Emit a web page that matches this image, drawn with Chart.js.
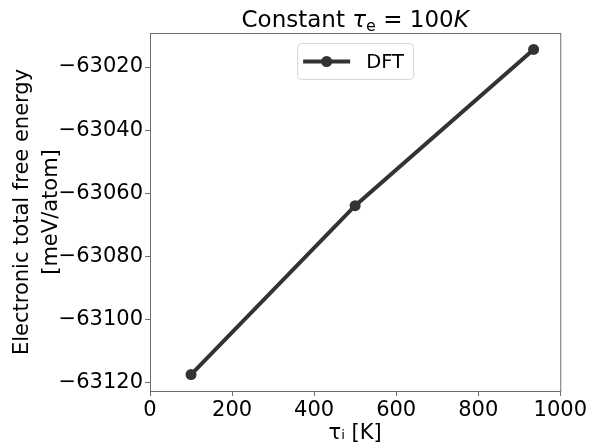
<!DOCTYPE html>
<html>
<head>
<meta charset="utf-8">
<script src="https://cdn.jsdelivr.net/npm/chart.js@4"></script>
<style>
  html, body { margin: 0; padding: 0; background: #fff; }
  #wrap { width: 589px; height: 447px; }
</style>
</head>
<body>
<div id="wrap"><canvas id="chart" width="589" height="447"></canvas></div>
<script>
// -------------------------------------------------------------
// DATA
// -------------------------------------------------------------
const ionTemps = [100, 500, 935];
const dftEnergy = [-63117.6, -63064.0, -63014.4];
const xTicks = [0, 200, 400, 600, 800, 1000];
const yTicks = [-63120, -63100, -63080, -63060, -63040, -63020];
const seriesLabel = "DFT";

const FONT = "'DejaVu Sans', sans-serif";
const LINE = "#333333";
const FRAME = "#6e6e6e";

// -------------------------------------------------------------
// PLUGINS
// -------------------------------------------------------------
const frame = {
  id: "frame",
  afterDatasetsDraw(chart) {
    const { ctx, chartArea: a } = chart;
    ctx.save();
    ctx.strokeStyle = FRAME;
    ctx.lineWidth = 1;
    ctx.strokeRect(a.left + 0.5, a.top + 0.5, a.right - a.left, a.bottom - a.top);
    ctx.restore();
  }
};

// title "Constant τ_e = 100K", drawn mathtext-style over the axes
const mathTitle = {
  id: "mathTitle",
  afterDraw(chart) {
    const { ctx, chartArea: a } = chart;
    const size = 23;
    const parts = [
      { t: "Constant ", f: `${size}px ${FONT}`, dy: 0 },
      { t: "τ", f: `italic ${size}px ${FONT}`, dy: 0 },
      { t: "e", f: `${Math.round(size * 0.7)}px ${FONT}`, dy: 4 },
      { t: " = 100", f: `${size}px ${FONT}`, dy: 0 },
      { t: "K", f: `italic ${size}px ${FONT}`, dy: 0 }
    ];
    ctx.save();
    ctx.fillStyle = "#000";
    ctx.textBaseline = "alphabetic";
    let total = 0;
    parts.forEach(p => { ctx.font = p.f; p.w = ctx.measureText(p.t).width; total += p.w; });
    let x = (a.left + a.right) / 2 - total / 2;
    parts.forEach(p => {
      ctx.font = p.f;
      ctx.fillText(p.t, x, 26.5 + p.dy);
      x += p.w;
    });
    ctx.restore();
  }
};

// legend inside the axes, upper centre
const innerLegend = {
  id: "innerLegend",
  afterDraw(chart) {
    const { ctx, chartArea: a } = chart;
    const cx = (a.left + a.right) / 2;
    const x = cx - 58, y = a.top + 10, w = 116, h = 36;
    ctx.save();
    ctx.fillStyle = "rgba(255,255,255,0.8)";
    ctx.strokeStyle = "#d6d6d6";
    ctx.lineWidth = 1;
    ctx.beginPath();
    ctx.roundRect(x + 0.5, y + 0.5, w, h, 4);
    ctx.fill();
    ctx.stroke();
    const ly = y + h / 2 + 0.5;
    ctx.strokeStyle = LINE;
    ctx.lineWidth = 4;
    ctx.beginPath();
    ctx.moveTo(x + 6, ly);
    ctx.lineTo(x + 53, ly);
    ctx.stroke();
    ctx.fillStyle = LINE;
    ctx.beginPath();
    ctx.arc(x + 29.5, ly, 5.5, 0, Math.PI * 2);
    ctx.fill();
    ctx.fillStyle = "#000";
    ctx.font = "19.5px " + FONT;
    ctx.textBaseline = "middle";
    ctx.fillText(seriesLabel, x + 69, ly + 1);
    ctx.restore();
  }
};

// -------------------------------------------------------------
// CHART
// -------------------------------------------------------------
const axisCommon = {
  type: "linear",
  border: { display: true, color: FRAME, width: 1 },
  grid: { display: true, drawOnChartArea: false, tickLength: 5, color: FRAME, tickColor: FRAME },
  ticks: { color: "#000", font: { family: FONT, size: 21 }, padding: 2 }
};

new Chart(document.getElementById("chart"), {
  type: "line",
  data: {
    datasets: [{
      label: seriesLabel,
      data: ionTemps.map((t, i) => ({ x: t, y: dftEnergy[i] })),
      borderColor: LINE,
      backgroundColor: LINE,
      borderWidth: 4,
      pointRadius: 5.5,
      pointHoverRadius: 5.5,
      pointBorderWidth: 0,
      tension: 0
    }]
  },
  options: {
    responsive: false,
    animation: false,
    layout: { padding: { left: 4, right: 27, top: 33, bottom: 0 } },
    plugins: {
      legend: { display: false },
      tooltip: { enabled: false },
      title: { display: false }
    },
    scales: {
      x: {
        ...axisCommon,
        min: 0,
        max: 1000,
        afterBuildTicks: s => { s.ticks = xTicks.map(v => ({ value: v })); },
        afterFit: s => { s.height = 56; },
        ticks: {
          ...axisCommon.ticks,
          maxRotation: 0,
          callback: v => String(v)
        },
        title: {
          display: true,
          text: "τᵢ [K]",
          color: "#000",
          font: { family: FONT, size: 21 },
          padding: { top: 0, bottom: 1 }
        }
      },
      y: {
        ...axisCommon,
        min: -63122.8,
        max: -63009.2,
        afterBuildTicks: s => { s.ticks = yTicks.map(v => ({ value: v })); },
        afterFit: s => { s.width = 146; },
        ticks: {
          ...axisCommon.ticks,
          callback: v => "\u2212" + Math.abs(v)
        },
        title: {
          display: true,
          text: ["Electronic total free energy", "[meV/atom]"],
          color: "#000",
          font: { family: FONT, size: 21, lineHeight: 1.38 },
          padding: { top: 4, bottom: 0 }
        }
      }
    }
  },
  plugins: [frame, mathTitle, innerLegend]
});
</script>
</body>
</html>
